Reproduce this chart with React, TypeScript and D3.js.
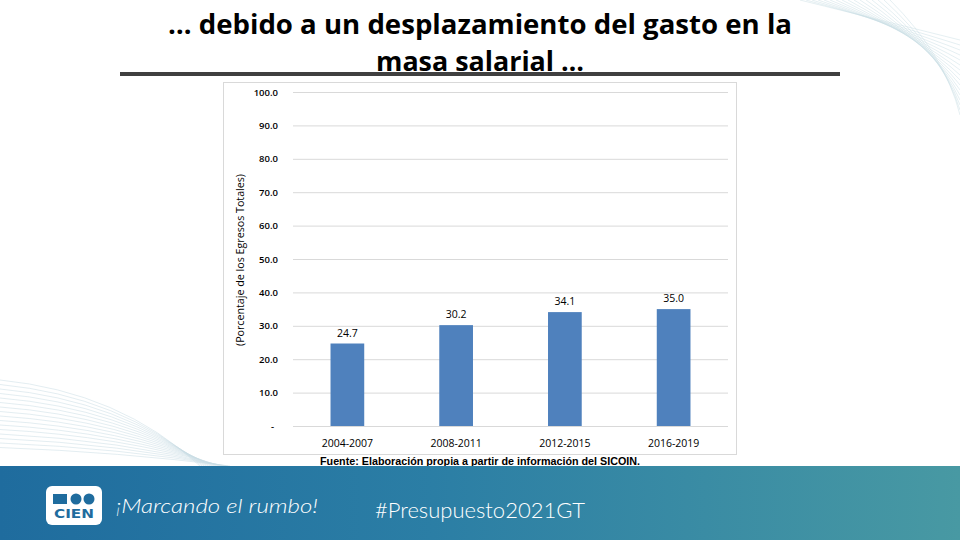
import { useRef, useEffect } from 'react'
import * as d3 from 'd3'

const categories = ['2004-2007', '2008-2011', '2012-2015', '2016-2019']
const shares = [24.7, 30.2, 34.1, 35.0]
const yTicks = [0, 10, 20, 30, 40, 50, 60, 70, 80, 90, 100]

const titleLines = ['… debido a un desplazamiento del gasto en la', 'masa salarial …']
const yTitle = '(Porcentaje de los Egresos Totales)'
const source = 'Fuente: Elaboración propia a partir de información del SICOIN.'

const W = 960
const H = 540

export default function App() {
  const svgRef = useRef<SVGSVGElement>(null)

  useEffect(() => {
    if (!svgRef.current) return
    const svg = d3.select(svgRef.current)
    svg.selectAll('*').remove()

    const defs = svg.append('defs')
    const grad = defs.append('linearGradient').attr('id', 'band').attr('x1', '0').attr('x2', '1')
    grad.append('stop').attr('offset', '0%').attr('stop-color', '#1f6c9e')
    grad.append('stop').attr('offset', '45%').attr('stop-color', '#2b7ea5')
    grad.append('stop').attr('offset', '100%').attr('stop-color', '#4899a3')

    svg.append('rect').attr('width', W).attr('height', H).attr('fill', '#ffffff')

    // decorative swooshes
    const deco = svg.append('g').attr('fill', 'none').attr('stroke', '#c9dde3').attr('stroke-width', 0.8)
    d3.range(16).forEach((i) => {
      deco.append('path')
        .attr('d', `M0,${380 + i * 4.5} Q120,${392 + i * 4} ${200 + i * 2},466`)
        .attr('opacity', 0.65)
      deco.append('path')
        .attr('d', `M${800 + i * 6},0 Q${900 + i * 3},${25 + i * 2} 960,${40 + i * 5}`)
        .attr('opacity', 0.6)
    })

    // title
    const title = svg.append('g')
      .attr('font-family', 'Open Sans, sans-serif')
      .attr('font-weight', 700)
      .attr('fill', '#000')
      .attr('text-anchor', 'middle')
    title.append('text').attr('x', 480).attr('y', 34).attr('font-size', 26.5)
      .attr('textLength', 624).attr('lengthAdjust', 'spacingAndGlyphs').text(titleLines[0])
    title.append('text').attr('x', 480).attr('y', 71).attr('font-size', 26.5)
      .attr('textLength', 208).attr('lengthAdjust', 'spacingAndGlyphs').text(titleLines[1])
    svg.append('rect').attr('x', 120).attr('y', 72).attr('width', 720).attr('height', 4).attr('fill', '#404040')

    // chart frame
    svg.append('rect')
      .attr('x', 223.5).attr('y', 82.5).attr('width', 513).attr('height', 372)
      .attr('fill', '#fff').attr('stroke', '#d9d9d9')

    const x = d3.scaleBand<string>().domain(categories).range([293, 728]).paddingInner(0.69).paddingOuter(0.345)
    const y = d3.scaleLinear().domain([0, 100]).range([426, 92])

    const yAxis = d3.axisLeft(y)
      .tickValues(yTicks)
      .tickSize(-(728 - 293))
      .tickPadding(15)
      .tickFormat((d) => ((d as number) === 0 ? '-' : (d as number).toFixed(1)))

    svg.append('g')
      .attr('transform', 'translate(293,0)')
      .call(yAxis)
      .call((g) => g.select('.domain').remove())
      .call((g) => g.selectAll('.tick line').attr('stroke', '#d9d9d9'))
      .call((g) => g.selectAll('.tick text')
        .attr('fill', '#000').attr('font-size', 9.5).attr('font-weight', 600)
        .attr('font-family', 'Open Sans, sans-serif'))
      .call((g) => g.selectAll('.tick text').filter((d) => d === 0).attr('dx', -4))

    svg.append('g')
      .selectAll('rect')
      .data(shares)
      .join('rect')
      .attr('x', (_, i) => x(categories[i])!)
      .attr('y', (d) => y(d))
      .attr('width', x.bandwidth())
      .attr('height', (d) => y(0) - y(d))
      .attr('fill', '#4f81bd')

    svg.append('g')
      .selectAll('text')
      .data(shares)
      .join('text')
      .attr('x', (_, i) => x(categories[i])! + x.bandwidth() / 2)
      .attr('y', (d) => y(d) - 7)
      .attr('text-anchor', 'middle')
      .attr('font-size', 10.5)
      .attr('font-family', 'Open Sans, sans-serif')
      .attr('fill', '#000')
      .text((d) => d.toFixed(1))

    const xAxis = d3.axisBottom(x).tickSize(0).tickPadding(14)
    svg.append('g')
      .attr('transform', `translate(0,${y(0)})`)
      .call(xAxis)
      .call((g) => g.select('.domain').remove())
      .call((g) => g.selectAll('.tick text')
        .attr('fill', '#000').attr('font-size', 10.5)
        .attr('font-family', 'Open Sans, sans-serif'))

    svg.append('text')
      .attr('transform', 'translate(244,260) rotate(-90)')
      .attr('text-anchor', 'middle')
      .attr('font-size', 10)
      .attr('font-family', 'Open Sans, sans-serif')
      .attr('textLength', 172).attr('lengthAdjust', 'spacingAndGlyphs')
      .attr('fill', '#000')
      .text(yTitle)

    svg.append('text')
      .attr('x', 480).attr('y', 465)
      .attr('text-anchor', 'middle')
      .attr('font-size', 10.5)
      .attr('font-weight', 700)
      .attr('font-family', 'Liberation Sans, Arial, sans-serif')
      .attr('textLength', 320).attr('lengthAdjust', 'spacingAndGlyphs')
      .attr('fill', '#000')
      .text(source)

    // footer band
    svg.append('rect').attr('x', 0).attr('y', 466).attr('width', W).attr('height', H - 466).attr('fill', 'url(#band)')

    const logo = svg.append('g')
    logo.append('rect').attr('x', 46).attr('y', 486).attr('width', 56).attr('height', 39).attr('rx', 6).attr('fill', '#fff')
    logo.append('rect').attr('x', 53).attr('y', 494).attr('width', 14).attr('height', 10).attr('fill', '#1f6c9e')
    logo.append('circle').attr('cx', 76).attr('cy', 499).attr('r', 5.5).attr('fill', '#1f6c9e')
    logo.append('circle').attr('cx', 89).attr('cy', 499).attr('r', 5.5).attr('fill', '#1f6c9e')
    logo.append('text').attr('x', 74).attr('y', 518).attr('text-anchor', 'middle')
      .attr('font-size', 12.5).attr('font-weight', 900).attr('font-family', 'DejaVu Sans, sans-serif')
      .attr('textLength', 40).attr('lengthAdjust', 'spacingAndGlyphs')
      .attr('fill', '#1f6c9e').text('CIEN')

    svg.append('text')
      .attr('x', 116).attr('y', 513)
      .attr('font-size', 20).attr('font-style', 'italic').attr('font-weight', 300)
      .attr('font-family', 'Lato, sans-serif')
      .attr('textLength', 202).attr('lengthAdjust', 'spacingAndGlyphs')
      .attr('fill', '#fff').text('¡Marcando el rumbo!')

    svg.append('text')
      .attr('x', 375).attr('y', 518)
      .attr('font-size', 22).attr('font-weight', 300)
      .attr('font-family', 'Lato, sans-serif')
      .attr('textLength', 210).attr('lengthAdjust', 'spacingAndGlyphs')
      .attr('fill', '#fff').text('#Presupuesto2021GT')
  }, [])

  return (
    <div style={{ position: 'absolute', left: 0, top: 0, width: W, height: H }}>
      <svg ref={svgRef} width={W} height={H} style={{ display: 'block' }} />
    </div>
  )
}
